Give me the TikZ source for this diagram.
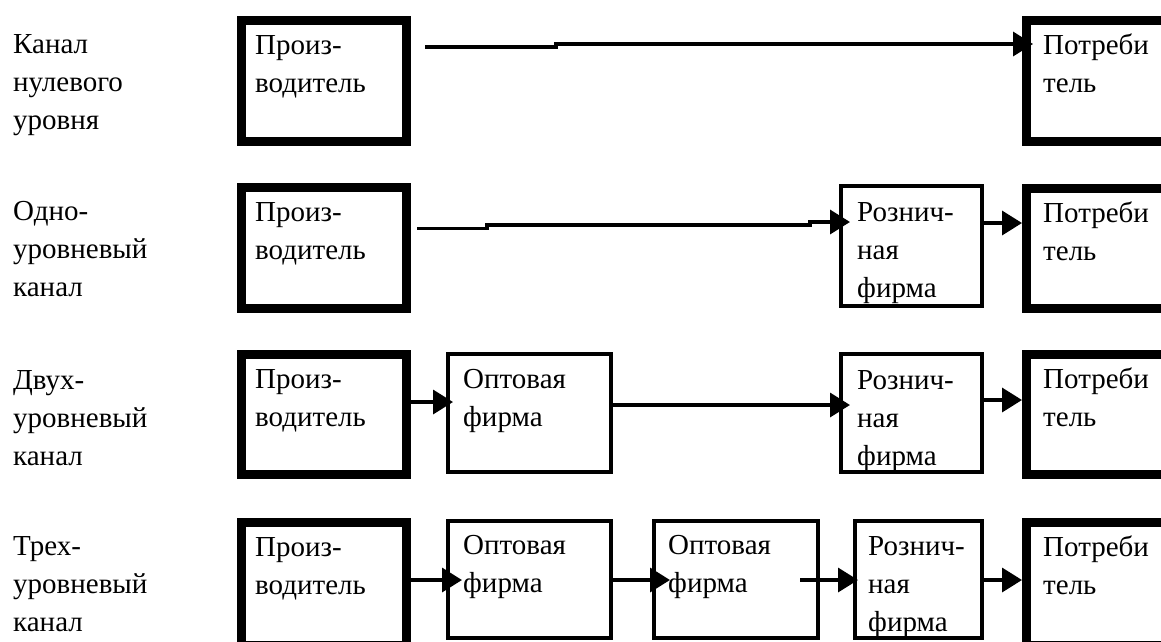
\documentclass[tikz,border=0pt]{standalone}
\usepackage{fontspec}
\setmainfont{Liberation Serif}
\newfontfamily\myserif{Liberation Serif}
\usetikzlibrary{arrows.meta,calc}
\begin{document}
\begin{tikzpicture}[x=1pt,y=-1pt,
  heavybox/.style={draw,rectangle,line width=9pt,inner sep=0pt,minimum width=165pt},
  lightbox/.style={draw,rectangle,line width=4pt,inner sep=0pt},
  txt/.style={anchor=base west,align=left,inner sep=0pt,font=\myserif\fontsize{29}{38}\selectfont},
  arr/.style={line width=3.5pt,-{Triangle[length=20pt,width=24pt]}},
]
\useasboundingbox (0,0) rectangle (1161,641);
\fill[white] (0,0) rectangle (1161,641);
\clip (0,0) rectangle (1161,641);

% row labels (base = baseline of the last line)
\node[txt] (l1) at (13,129) {Канал\\нулевого\\уровня};
\node[txt] (l2) at (13,296) {Одно-\\уровневый\\канал};
\node[txt] (l3) at (13,465) {Двух-\\уровневый\\канал};
\node[txt] (l4) at (13,631) {Трех-\\уровневый\\канал};

% producers
\node[heavybox,minimum height=121pt] (p1) at (324,81) {};
\node[heavybox,minimum height=121pt] (p2) at (324,248) {};
\node[heavybox,minimum height=120pt] (p3) at (324,414.5) {};
\node[heavybox,minimum height=123pt] (p4) at (324,584) {};
% consumers
\node[heavybox,minimum height=121pt] (c1) at (1109,81) {};
\node[heavybox,minimum height=120pt] (c2) at (1109,248.5) {};
\node[heavybox,minimum height=120pt] (c3) at (1109,414.5) {};
\node[heavybox,minimum height=123pt] (c4) at (1109,584) {};
% retail
\node[lightbox,minimum width=141pt,minimum height=120pt] (r2) at (911.5,246) {};
\node[lightbox,minimum width=141pt,minimum height=118pt] (r3) at (911.5,413) {};
\node[lightbox,minimum width=127pt,minimum height=117pt] (r4) at (918.5,579.5) {};
% wholesale
\node[lightbox,minimum width=163pt,minimum height=118pt] (w3) at (529.5,413) {};
\node[lightbox,minimum width=163pt,minimum height=117pt] (w4a) at (529.5,579.5) {};
\node[lightbox,minimum width=164pt,minimum height=117pt] (w4b) at (736,579.5) {};

% box texts
\foreach \b in {p1,p2,p3,p4}{
  \node[txt] (t\b) at ($(\b.north west)+(18,76)$) {Произ-\\водитель};
}
\foreach \b in {c1,c2,c3,c4}{
  \node[txt] (t\b) at ($(\b.north west)+(21,76)$) {Потреби\\тель};
}
\node[txt] (tr2) at ($(r2.north west)+(18,113)$) {Рознич-\\ная\\фирма};
\node[txt] (tr3) at ($(r3.north west)+(18,113)$) {Рознич-\\ная\\фирма};
\node[txt] (tr4) at ($(r4.north west)+(15,112)$) {Рознич-\\ная\\фирма};
\node[txt] (tw3) at ($(w3.north west)+(17,74)$) {Оптовая\\фирма};
\node[txt] (tw4a) at ($(w4a.north west)+(17,73)$) {Оптовая\\фирма};
\node[txt] (tw4b) at ($(w4b.north west)+(16,73)$) {Оптовая\\фирма};

% connectors
\coordinate (s1) at (425,47);
\draw[arr] (s1) -- (556,47) -- (556,44) -- ([xshift=11pt]c1.west |- 0,44);

\draw[arr] ([xshift=6pt]p2.east |- 0,228.5) -- (487,228.5) -- (487,225) -- (810,225) -- (810,222)
  -- ([xshift=11pt]r2.west |- 0,222);
\draw[arr] (r2.east |- 0,223) -- (c2.west |- 0,223);

\draw[arr] (p3.east |- 0,402) -- ([xshift=7pt]w3.west |- 0,402);
\draw[arr] (w3.east |- 0,405) -- ([xshift=11pt]r3.west |- 0,405);
\draw[arr] (r3.east |- 0,400) -- (c3.west |- 0,400);

\draw[arr] (p4.east |- 0,580) -- ([xshift=16pt]w4a.west |- 0,580);
\draw[arr] (w4a.east |- 0,580) -- ([xshift=18pt]w4b.west |- 0,580);
\draw[arr] ([xshift=-20pt]w4b.east |- 0,580) -- ([xshift=5pt]r4.west |- 0,580);
\draw[arr] (r4.east |- 0,580) -- (c4.west |- 0,580);
\end{tikzpicture}
\end{document}
